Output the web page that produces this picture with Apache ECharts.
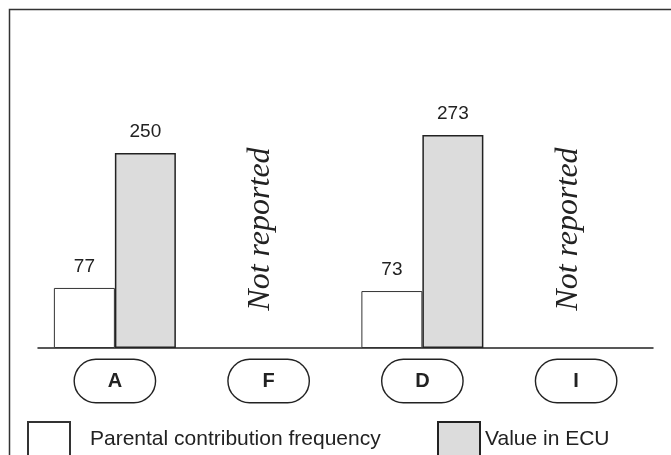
<!DOCTYPE html>
<html><head><meta charset="utf-8">
<script src="https://cdn.jsdelivr.net/npm/echarts@6/dist/echarts.min.js"></script>
<style>html,body{margin:0;padding:0;background:#fff}#c{width:671px;height:455px}</style>
</head><body><div id="c"></div>
<script>
var categories = ['A', 'F', 'D', 'I'];
var parentalFrequency = [77, null, 73, null];
var valueInECU = [250, null, 273, null];
var notReported = ['F', 'I'];
var seriesNames = ['Parental contribution frequency', 'Value in ECU'];
var notReportedText = 'Not reported';

var chart = echarts.init(document.getElementById('c'), null, {renderer: 'canvas'});
var labelStyle = {show: true, position: 'top', distance: 12, fontFamily: 'Liberation Sans', fontSize: 19, color: '#222'};
var option = {
  animation: false,
  backgroundColor: '#fff',
  grid: {left: 38, right: 18, top: 114, height: 234},
  xAxis: {
    type: 'category', data: categories,
    axisLine: {lineStyle: {color: '#222', width: 1.5}},
    axisTick: {show: false},
    axisLabel: {
      margin: 12, fontFamily: 'Liberation Sans', fontWeight: 'bold', fontSize: 20, color: '#222',
      backgroundColor: '#fff', borderColor: '#222', borderWidth: 1.4, borderRadius: 22,
      width: 80, height: 42, lineHeight: 42, align: 'center', padding: 0
    }
  },
  yAxis: {type: 'value', min: 0, max: 300, show: false, splitLine: {show: false}},
  legend: [
    {data: [seriesNames[0]], left: 22, top: 416, itemWidth: 42, itemHeight: 34, icon: 'rect',
     textStyle: {fontFamily: 'Liberation Sans', fontSize: 21, color: '#222', padding: [0, 0, 0, 15]}},
    {data: [seriesNames[1]], left: 432, top: 416, itemWidth: 42, itemHeight: 34, icon: 'rect', itemGap: 0,
     textStyle: {fontFamily: 'Liberation Sans', fontSize: 21, color: '#222', padding: [0, 0, 0, 0]}}
  ],
  series: [
    {name: seriesNames[0], type: 'bar', data: parentalFrequency, barWidth: 61, barGap: '0%',
     itemStyle: {color: '#fff', borderColor: '#333', borderWidth: 1}, label: labelStyle},
    {name: seriesNames[1], type: 'bar', data: valueInECU, barWidth: 61,
     itemStyle: {color: '#dcdcdc', borderColor: '#222', borderWidth: 1.5}, label: labelStyle}
  ]
};
chart.setOption(option);

var graphics = [
  {type: 'polyline', shape: {points: [[9.5, 460], [9.5, 9.5], [675, 9.5]]}, style: {stroke: '#333', lineWidth: 1.5, fill: null}, z: 100}
];
notReported.forEach(function (cat) {
  var x = chart.convertToPixel({xAxisIndex: 0}, cat) - 8;
  graphics.push({
    type: 'text', x: x, y: 229, rotation: Math.PI / 2,
    style: {text: notReportedText, font: 'italic 32px "Liberation Serif"', fill: '#222', align: 'center', verticalAlign: 'middle'}
  });
});
chart.setOption({graphic: graphics});
</script></body></html>
